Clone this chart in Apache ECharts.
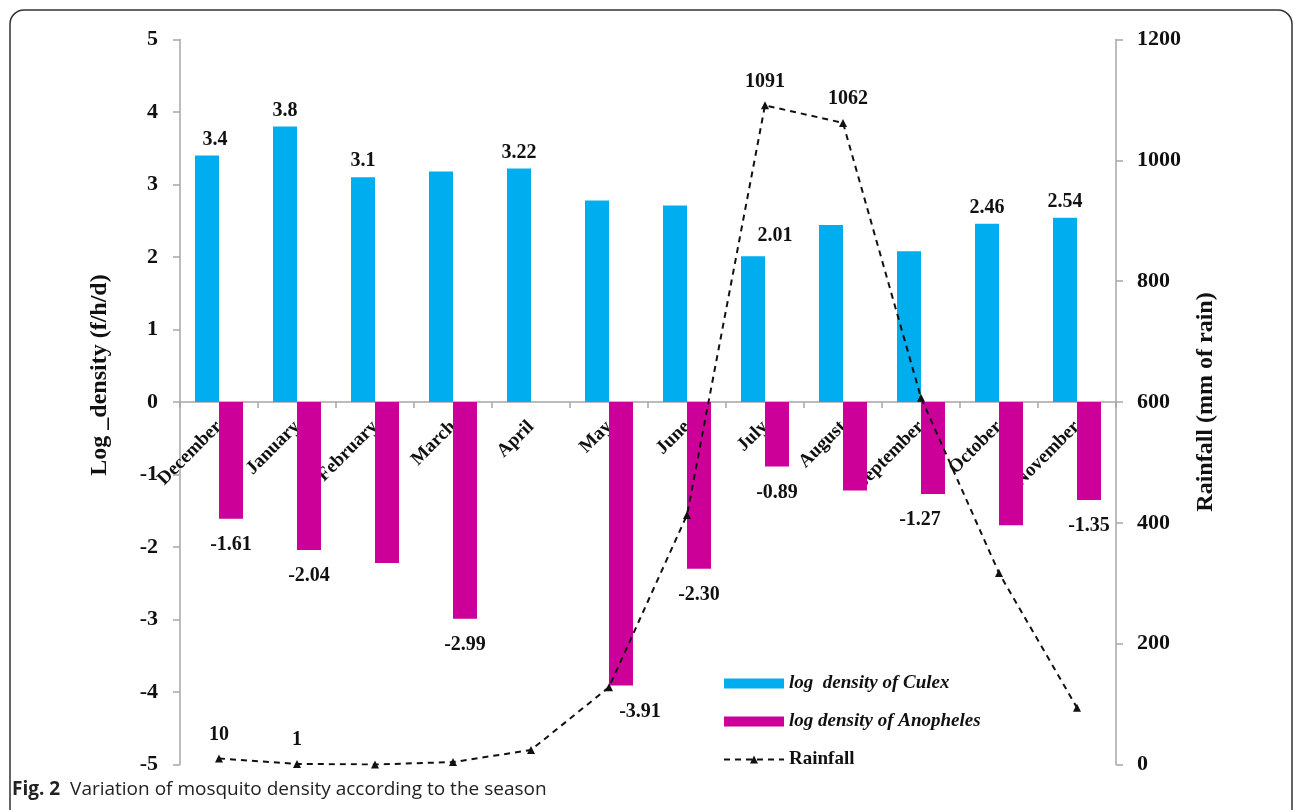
<!DOCTYPE html>
<html>
<head>
<meta charset="utf-8">
<script src="https://cdn.jsdelivr.net/npm/echarts@6/dist/echarts.min.js"></script>
<style>
html,body{margin:0;padding:0;background:#fff;}
#chart{width:1295px;height:810px;}
</style>
</head>
<body>
<div id="chart"></div>
<script>
const months = ['December','January','February','March','April','May','June','July','August','September','October','November'];
const culex = [3.40, 3.80, 3.10, 3.18, 3.22, 2.78, 2.71, 2.01, 2.44, 2.08, 2.46, 2.54];
const anopheles = [-1.61, -2.04, -2.22, -2.99, 0, -3.91, -2.30, -0.89, -1.22, -1.27, -1.70, -1.35];
const rainfall = [10, 1, 0, 4, 24, 128, 413, 1091, 1062, 607, 317, 94];
const culexLabels = ['3.4','3.8','3.1','','3.22','','','2.01','','','2.46','2.54'];
const anophelesLabels = ['-1.61','-2.04','','-2.99','','-3.91','-2.30','-0.89','','-1.27','','-1.35'];
const rainfallLabels = ['10','1','','','','','','1091','1062','','',''];
const seriesNames = ['log  density of Culex','log density of Anopheles','Rainfall'];
const leftAxisName = 'Log _density (f/h/d)';
const rightAxisName = 'Rainfall (mm of rain)';

const SERIF = '"Liberation Serif","Times New Roman",serif';
const culexShift = {0: [8, 0], 7: [22, -4]};
const anophShift = {5: [19, 0], 9: [-13, 0]};
const rainShift = {8: [5, 0]};

const W = 1295, H = 810;
const G = {left: 180, right: 179, top: 39.5, bottom: 45.5};
const LMIN = -5, LMAX = 5;
const plotH = H - G.top - G.bottom;
const zeroY = G.top + plotH * (LMAX - 0) / (LMAX - LMIN);
const xAxisOffset = -((H - G.bottom) - zeroY);

const chart = echarts.init(document.getElementById('chart'));
const lblStyle = {fontFamily: SERIF, fontWeight: 'bold', fontSize: 20, color: '#111'};
const axisGray = '#a6a6a6';

const option = {
  animation: false,
  backgroundColor: '#fff',
  grid: {left: G.left, right: G.right, top: G.top, bottom: G.bottom, containLabel: false, outerBoundsMode: 'none'},
  legend: {
    orient: 'vertical', left: 723, top: 674, padding: 0, itemWidth: 60, itemHeight: 10, itemGap: 19,
    textStyle: {fontFamily: SERIF, fontWeight: 'bold', fontSize: 19, color: '#111'},
    data: [
      {name: seriesNames[0], icon: 'rect', textStyle: {fontStyle: 'italic'}},
      {name: seriesNames[1], icon: 'rect', textStyle: {fontStyle: 'italic'}},
      {name: seriesNames[2]}
    ]
  },
  xAxis: {
    type: 'category', data: months, position: 'bottom', offset: xAxisOffset,
    axisLine: {onZero: false, lineStyle: {color: axisGray, width: 1.5}},
    axisTick: {show: true, length: 6, lineStyle: {color: axisGray, width: 1.5}},
    axisLabel: {rotate: 45, margin: 22, fontFamily: SERIF, fontWeight: 'bold', fontSize: 19, color: '#111', interval: 0},
    splitLine: {show: false}
  },
  yAxis: [
    {
      type: 'value', min: LMIN, max: LMAX, interval: 1,
      name: leftAxisName, nameLocation: 'middle', nameGap: 68, nameRotate: 90,
      nameTextStyle: {fontFamily: SERIF, fontWeight: 'bold', fontSize: 24, color: '#111', padding: [0, 0, 0, 54]},
      axisLine: {show: true, lineStyle: {color: axisGray, width: 1.5}},
      axisTick: {show: true, length: 7, lineStyle: {color: axisGray, width: 1.5}},
      axisLabel: {margin: 22, fontFamily: SERIF, fontWeight: 'bold', fontSize: 22, color: '#111', formatter: v => String(v)},
      splitLine: {show: false}
    },
    {
      type: 'value', min: 0, max: 1200, interval: 200, position: 'right',
      name: rightAxisName, nameLocation: 'middle', nameGap: 78, nameRotate: 90,
      nameTextStyle: {fontFamily: SERIF, fontWeight: 'bold', fontSize: 24, color: '#111'},
      axisLine: {show: true, lineStyle: {color: axisGray, width: 1.5}},
      axisTick: {show: true, length: 7, lineStyle: {color: axisGray, width: 1.5}},
      axisLabel: {margin: 21, fontFamily: SERIF, fontWeight: 'bold', fontSize: 22, color: '#111', formatter: v => String(v)},
      splitLine: {show: false}
    }
  ],
  series: [
    {
      name: seriesNames[0], type: 'bar', yAxisIndex: 0, barWidth: 24, barGap: '0%',
      itemStyle: {color: '#00AEEF'},
      data: culex.map((v, i) => ({
        value: v,
        label: {show: culexLabels[i] !== '', position: 'top', distance: 6, formatter: culexLabels[i], offset: culexShift[i] || [0, 0], ...lblStyle}
      }))
    },
    {
      name: seriesNames[1], type: 'bar', yAxisIndex: 0, barWidth: 24, barGap: '0%',
      itemStyle: {color: '#CC0099'},
      data: anopheles.map((v, i) => ({
        value: v,
        label: {show: anophelesLabels[i] !== '', position: 'bottom', distance: 16, formatter: anophelesLabels[i], offset: anophShift[i] || [0, 0], ...lblStyle}
      }))
    },
    {
      name: seriesNames[2], type: 'line', yAxisIndex: 1, z: 5,
      symbol: 'triangle', symbolSize: 8,
      lineStyle: {color: '#111', width: 2, type: [6, 5]},
      itemStyle: {color: '#111'},
      data: rainfall.map((v, i) => ({
        value: v,
        label: {show: rainfallLabels[i] !== '', position: 'top', distance: 10, formatter: rainfallLabels[i], offset: rainShift[i] || [0, 0], ...lblStyle}
      }))
    }
  ],
  graphic: [
    {type: 'rect', shape: {x: 10, y: 10, width: 1282, height: 840, r: 14}, style: {fill: 'none', stroke: '#333', lineWidth: 1.5}, z: 0, silent: true},
    {type: 'text', left: 12, top: 780, z: 10,
      style: {
        text: '{b|Fig. 2}  Variation of mosquito density according to the season',
        fontFamily: '"Open Sans","Noto Sans",sans-serif', fontSize: 19, fill: '#222',
        rich: {b: {fontFamily: '"Open Sans","Noto Sans",sans-serif', fontSize: 19, fontWeight: 'bold', fill: '#222'}}
      }
    }
  ]
};
chart.setOption(option);
</script>
</body>
</html>
